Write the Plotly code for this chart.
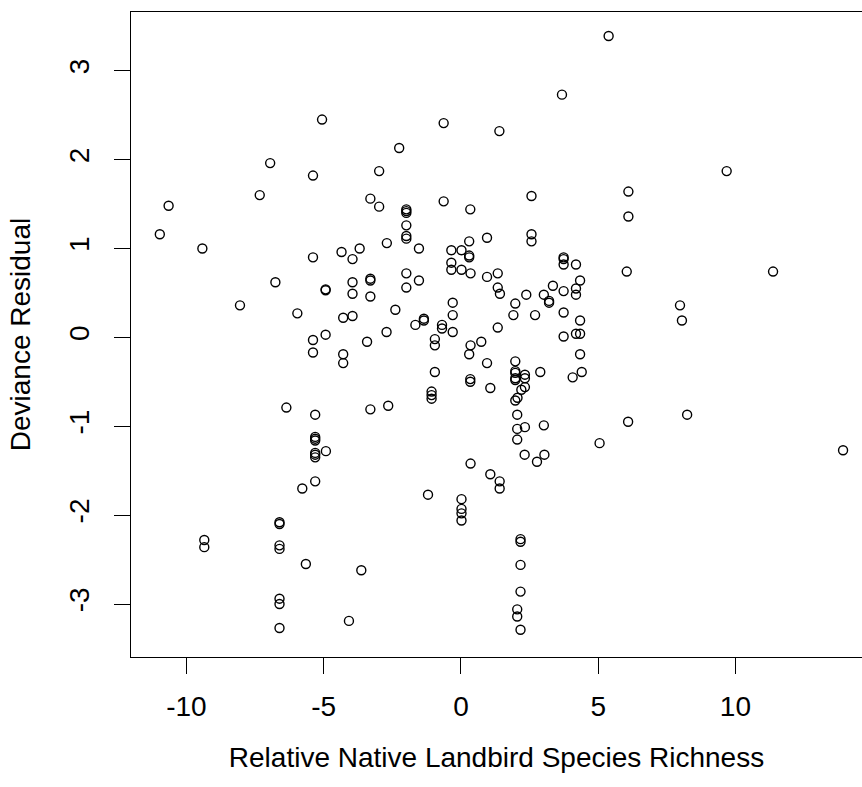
import plotly.graph_objects as go

# Relative native landbird species richness (x) and deviance residual (y)
richness = [
    -5.06, -6.95, -5.39, -7.33, -10.65, -10.97, 3.68, -0.63, 1.40, -2.25,
    -2.98, -3.30, -2.98, -1.99, -1.99, -1.99, -1.99, -0.63, 0.34, 2.57,
    5.38, 9.68, 6.10, 6.10,
    -9.42, -5.39, -4.35, -3.95, -3.69, -6.76, -4.93, -4.93, -3.95, -3.95,
    -8.05, -5.96, -4.29, -3.95, -4.93, -5.39, -5.39, -4.29, -4.29, -6.36,
    -5.31, -5.31, -5.31, -5.31,
    -5.31, -5.31, -5.31, -4.92, -5.31, -5.78, -6.61, -6.61, -9.35, -9.35,
    -6.61, -6.61, -5.65, -3.63, -6.61, -6.61, -6.61, -4.08,
    2.32, 3.04, 2.77, 0.35, 1.07, 1.41, 1.41, -1.20, 0.02, 0.02,
    0.02, 0.02, 2.17, 2.17, 2.17, 2.17, 2.05, 2.05, 2.17, 5.05,
    6.04, 11.37, 7.98, 8.05, 8.24, 6.09, 13.92,
    -1.99, -1.99, 2.57, 2.57, -2.70, -1.53, -0.35, 0.02, 0.30, 0.30,
    0.30, 0.95, 3.74, 3.74, 3.74, 4.19, -0.35, -0.35, 0.02, 0.35,
    0.95, 1.34, 1.34, 1.42, -1.99, -1.99, -1.53, -3.30, -3.30, -3.30,
    -2.39, -1.66, -1.35, -1.35, -2.71, -3.42, -0.69, -0.69, -0.30, -0.30,
    -0.30, -0.95, -0.95, -0.95, -1.07, -1.07, -1.07, 0.35, 0.74, 0.30,
    1.34, 0.95, 0.34, 0.34, 1.07, -3.30, -2.65, 1.98, 1.91, 2.38,
    2.70, 3.02, 3.21, 3.21, 3.35, 3.74, 3.74, 3.74, 4.19, 4.19,
    4.34, 4.34, 4.19, 4.34, 4.34, 4.40, 4.07, 1.98, 1.98, 1.98,
    1.98, 1.98, 2.33, 2.33, 2.33, 2.20, 2.89, 2.06, 1.98, 2.05,
    2.05, 2.33, 3.02, 2.05,
]
residual = [
    2.45, 1.96, 1.82, 1.60, 1.48, 1.16, 2.73, 2.41, 2.32, 2.13,
    1.87, 1.56, 1.47, 1.44, 1.42, 1.40, 1.26, 1.53, 1.44, 1.59,
    3.39, 1.87, 1.64, 1.36,
    1.00, 0.90, 0.96, 0.88, 1.00, 0.62, 0.54, 0.53, 0.62, 0.49,
    0.36, 0.27, 0.22, 0.24, 0.03, -0.03, -0.17, -0.19, -0.29, -0.79,
    -0.87, -1.12, -1.14, -1.16,
    -1.30, -1.32, -1.35, -1.28, -1.62, -1.70, -2.08, -2.10, -2.28, -2.36,
    -2.34, -2.38, -2.55, -2.62, -2.94, -3.00, -3.27, -3.19,
    -1.32, -1.32, -1.40, -1.42, -1.54, -1.62, -1.70, -1.77, -1.82, -1.93,
    -1.98, -2.06, -2.27, -2.30, -2.56, -2.86, -3.06, -3.14, -3.29, -1.19,
    0.74, 0.74, 0.36, 0.19, -0.87, -0.95, -1.27,
    1.14, 1.11, 1.16, 1.08, 1.06, 1.00, 0.98, 0.98, 1.08, 0.92,
    0.90, 1.12, 0.90, 0.88, 0.82, 0.82, 0.84, 0.76, 0.76, 0.72,
    0.68, 0.72, 0.56, 0.49, 0.72, 0.56, 0.64, 0.66, 0.64, 0.46,
    0.31, 0.14, 0.21, 0.19, 0.06, -0.05, 0.14, 0.10, 0.39, 0.25,
    0.06, -0.02, -0.09, -0.39, -0.61, -0.65, -0.69, -0.09, -0.05, -0.19,
    0.11, -0.29, -0.47, -0.50, -0.57, -0.81, -0.77, 0.38, 0.25, 0.48,
    0.25, 0.48, 0.41, 0.39, 0.58, 0.52, 0.28, 0.01, 0.55, 0.48,
    0.64, 0.19, 0.04, 0.04, -0.19, -0.39, -0.45, -0.27, -0.38, -0.40,
    -0.46, -0.48, -0.42, -0.46, -0.56, -0.59, -0.39, -0.68, -0.71, -0.87,
    -1.03, -1.01, -0.99, -1.15,
]

x_ticks = [-10, -5, 0, 5, 10]
y_ticks = [-3, -2, -1, 0, 1, 2, 3]
x_title = "Relative Native Landbird Species Richness"
y_title = "Deviance Residual"

FONT = "Liberation Sans, Arial, sans-serif"

fig = go.Figure(
    go.Scatter(
        x=richness,
        y=residual,
        mode="markers",
        marker=dict(symbol="circle-open", size=9, color="black",
                    line=dict(color="black", width=1.4)),
        hoverinfo="x+y",
    )
)

axis_common = dict(
    showgrid=False,
    zeroline=False,
    showline=True,
    linecolor="black",
    linewidth=1.3,
    ticks="outside",
    ticklen=16,
    tickwidth=1.3,
    tickcolor="black",
    tickfont=dict(family=FONT, size=28, color="black"),
    title_font=dict(family=FONT, size=28, color="black"),
)

fig.update_layout(
    width=862,
    height=787,
    margin=dict(l=131, r=0, t=12, b=130, autoexpand=False),
    paper_bgcolor="white",
    plot_bgcolor="white",
    showlegend=False,
    xaxis=dict(
        range=[-12.02, 14.61],
        tickvals=x_ticks,
        ticktext=[str(v) for v in x_ticks],
        mirror=True,
        ticklabelstandoff=8,
        title=dict(text=x_title, standoff=26),
        automargin=False,
        **axis_common,
    ),
    yaxis=dict(
        range=[-3.596, 3.66],
        tickvals=y_ticks,
        ticktext=[str(v) for v in y_ticks],
        tickangle=-90,
        mirror=False,
        ticklabelstandoff=14,
        title=dict(text=y_title, standoff=24),
        automargin=False,
        **axis_common,
    ),
)

fig.write_html("out.html")
